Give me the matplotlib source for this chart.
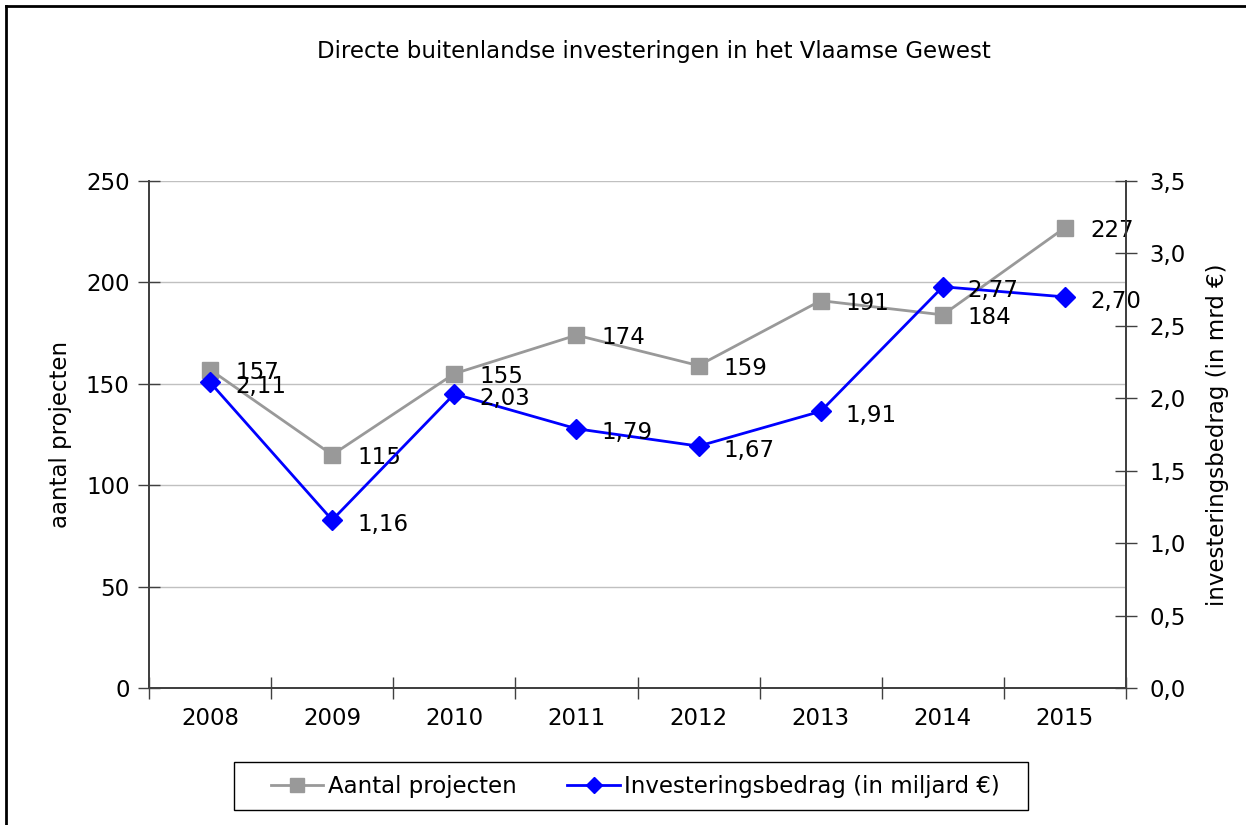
import matplotlib.pyplot as plt
from matplotlib.lines import Line2D
from matplotlib.patches import Rectangle
from matplotlib.ticker import FuncFormatter, MultipleLocator, FixedLocator

# data
jaren = ['2008', '2009', '2010', '2011', '2012', '2013', '2014', '2015']
aantal_projecten = [157, 115, 155, 174, 159, 191, 184, 227]
investering_mrd = [2.11, 1.16, 2.03, 1.79, 1.67, 1.91, 2.77, 2.70]

plt.rcParams['font.family'] = ['DejaVu Sans']
fs = 16.5

fig = plt.figure(figsize=(12.46, 8.25), dpi=100)
ax = fig.add_axes([0.1196, 0.166, 0.7841, 0.6146])
ax2 = ax.twinx()

x = list(range(len(jaren)))
grijs = '#999999'
blauw = '#0000ff'
as_kleur = '#404040'

ax.plot(x, aantal_projecten, color=grijs, lw=2, marker='s', ms=12,
        label='Aantal projecten', zorder=3)
ax2.plot(x, investering_mrd, color=blauw, lw=2, marker='D', ms=10,
         label='Investeringsbedrag (in miljard €)', zorder=3)

for xi, v in zip(x, aantal_projecten):
    ax.annotate(str(v), (xi, v), xytext=(18, -2), textcoords='offset points',
                ha='left', va='center', fontsize=fs, zorder=5)
for xi, v in zip(x, investering_mrd):
    ax2.annotate(f'{v:.2f}'.replace('.', ','), (xi, v), xytext=(18, -3),
                 textcoords='offset points', ha='left', va='center',
                 fontsize=fs, zorder=5)

ax.set_xlim(-0.5, len(jaren) - 0.5)
ax.set_ylim(0, 250)
ax2.set_ylim(0, 3.5)
ax.yaxis.set_major_locator(MultipleLocator(50))
ax2.yaxis.set_major_locator(MultipleLocator(0.5))
ax2.yaxis.set_major_formatter(FuncFormatter(lambda v, p: f'{v:.1f}'.replace('.', ',')))

# category ticks at the boundaries, labels in the middle
ax.xaxis.set_major_locator(FixedLocator([i - 0.5 for i in range(len(jaren) + 1)]))
ax.xaxis.set_major_formatter(FuncFormatter(lambda v, p: ''))
ax.xaxis.set_minor_locator(FixedLocator(x))
ax.set_xticklabels(jaren, minor=True)
ax.tick_params(axis='x', which='minor', length=0, labelsize=fs, pad=14)
ax.tick_params(axis='x', which='major', direction='inout', length=16, width=1, color=as_kleur)
ax.tick_params(axis='y', direction='inout', length=16, width=1, color=as_kleur, labelsize=fs, pad=6)
ax2.tick_params(axis='y', direction='inout', length=16, width=1, color=as_kleur, labelsize=fs, pad=9)

ax.grid(axis='y', color='#c0c0c0', lw=1)
ax.set_axisbelow(True)
for a in (ax, ax2):
    a.spines['top'].set_visible(False)
    for s in ('left', 'right', 'bottom'):
        a.spines[s].set_color(as_kleur)
        a.spines[s].set_linewidth(1.3)

ax.set_ylabel('aantal projecten', fontsize=fs, labelpad=10)
ax2.set_ylabel('investeringsbedrag (in mrd €)', fontsize=fs, labelpad=14)

fig.text(0.5245, 0.937, 'Directe buitenlandse investeringen in het Vlaamse Gewest',
         ha='center', va='center', fontsize=16.5)

# legend without its own frame; the box is drawn separately so the padding matches
h1, l1 = ax.get_legend_handles_labels()
h2, l2 = ax2.get_legend_handles_labels()
fig.legend(h1 + h2, l1 + l2, loc='center', bbox_to_anchor=(0.510, 0.047),
           ncol=2, fontsize=fs, frameon=False, handlelength=2.3,
           columnspacing=2.2, handletextpad=0.2, markerscale=0.8)
fig.add_artist(Rectangle((234 / 1246, 15 / 825), 794 / 1246, 48 / 825,
                         transform=fig.transFigure, fill=False,
                         edgecolor='black', lw=1.0))

# outer frame (only left and top edges visible in the reference)
fig.add_artist(Line2D([6 / 1246, 6 / 1246], [0, 1 - 6 / 825], color='black', lw=2,
                      transform=fig.transFigure))
fig.add_artist(Line2D([6 / 1246, 1], [1 - 6 / 825, 1 - 6 / 825], color='black', lw=2,
                      transform=fig.transFigure))

fig.savefig('out.png', dpi=100)
